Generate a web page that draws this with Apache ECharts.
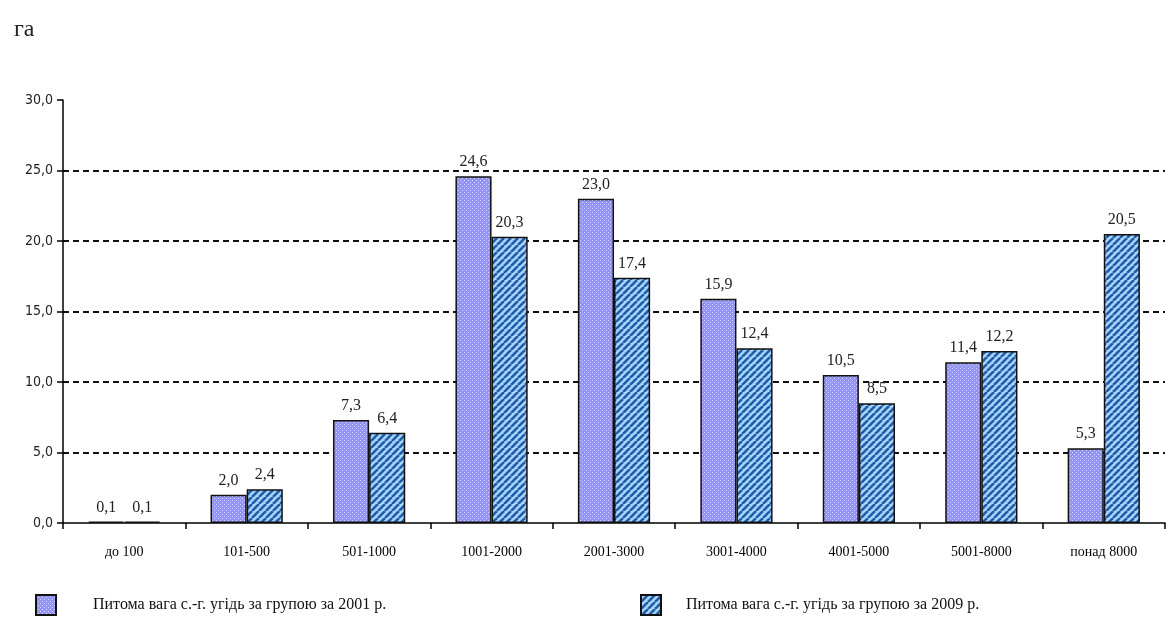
<!DOCTYPE html>
<html><head><meta charset="utf-8">
<script src="https://cdn.jsdelivr.net/npm/echarts@6/dist/echarts.min.js"></script>
<style>html,body{margin:0;padding:0;background:#fff}#c{width:1173px;height:639px}</style>
</head><body><div id="c"></div>
<script>
const categories = ['до 100','101-500','501-1000','1001-2000','2001-3000','3001-4000','4001-5000','5001-8000','понад 8000'];
const values2001 = [0.1, 2.0, 7.3, 24.6, 23.0, 15.9, 10.5, 11.4, 5.3];
const values2009 = [0.1, 2.4, 6.4, 20.3, 17.4, 12.4, 8.5, 12.2, 20.5];
const yTicks = [0, 5, 10, 15, 20, 25, 30];
const name2001 = 'Питома вага с.-г. угідь за групою за 2001 р.';
const name2009 = 'Питома вага с.-г. угідь за групою за 2009 р.';

function dotPattern(){
  const c = document.createElement('canvas'); c.width = 4; c.height = 4;
  const g = c.getContext('2d');
  g.fillStyle = '#9494f6'; g.fillRect(0,0,4,4);
  g.fillStyle = '#d4d4ff'; g.fillRect(0,0,1,1); g.fillRect(2,2,1,1);
  return c;
}
function stripePattern(){
  const s = 7;
  const c = document.createElement('canvas'); c.width = s; c.height = s;
  const g = c.getContext('2d');
  g.fillStyle = '#a8d4ff'; g.fillRect(0,0,s,s);
  g.strokeStyle = '#1f5da8'; g.lineWidth = 2.6;
  for (let k=-1;k<=1;k++){
    g.beginPath(); g.moveTo(k*s, s); g.lineTo(k*s+s, 0); g.stroke();
  }
  return c;
}
const fmt = v => v.toFixed(1).replace('.', ',');
const chart = echarts.init(document.getElementById('c'));
const labelStyle = {show:true, position:'top', distance:6, fontFamily:'Liberation Serif', fontSize:16, color:'#222', formatter: p => fmt(p.value)};
chart.setOption({
  animation:false,
  graphic:[{type:'text', left:14, top:18, style:{text:'га', fontFamily:'Liberation Serif', fontSize:24, fill:'#222'}}],
  grid:{left:63, right:8, top:100, bottom:116, containLabel:false},
  legend:[
    {data:[{name:name2001, icon:'rect'}], left:30, top:589, itemWidth:20, itemHeight:20, itemGap:0,
     textStyle:{fontFamily:'Liberation Serif', fontSize:16, color:'#111', padding:[0,0,0,32]}},
    {data:[{name:name2009, icon:'rect'}], left:635, top:589, itemWidth:20, itemHeight:20, itemGap:0,
     textStyle:{fontFamily:'Liberation Serif', fontSize:16, color:'#111', padding:[0,0,0,20]}}
  ],
  xAxis:{type:'category', data:categories,
    axisLine:{lineStyle:{color:'#000', width:1.5}},
    axisTick:{show:true, length:6, lineStyle:{color:'#000', width:1.5}},
    axisLabel:{fontFamily:'Liberation Serif', fontSize:14, color:'#000', margin:22}},
  yAxis:{type:'value', min:0, max:30, interval:5,
    axisLine:{show:true, lineStyle:{color:'#000', width:1.5}},
    axisTick:{show:true, length:6, lineStyle:{color:'#000', width:1.5}},
    axisLabel:{fontFamily:'DejaVu Sans Condensed', fontSize:14, color:'#222', margin:10,
      formatter: v => yTicks.includes(v) ? fmt(v) : ''},
    splitLine:{show:true, lineStyle:{type:[6,4], width:2, color:['rgba(0,0,0,0)','#111','#111','#111','#111','#111','rgba(0,0,0,0)']}}},
  series:[
    {name:name2001, type:'bar', data:values2001, barWidth:'29.5%', barGap:'0%',
     itemStyle:{color:{image:dotPattern(), repeat:'repeat'}, borderColor:'#111', borderWidth:1.5},
     label:labelStyle},
    {name:name2009, type:'bar', data:values2009, barWidth:'29.5%',
     itemStyle:{color:{image:stripePattern(), repeat:'repeat'}, borderColor:'#111', borderWidth:1.5},
     label:labelStyle}
  ]
});
</script></body></html>
